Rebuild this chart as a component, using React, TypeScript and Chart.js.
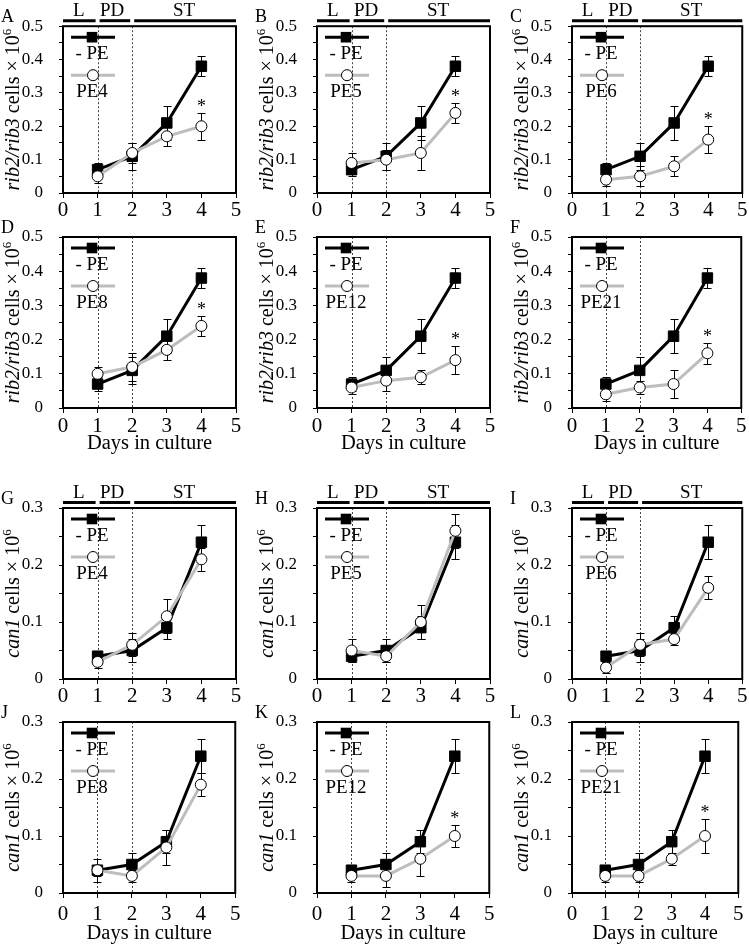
import React, { useEffect, useRef } from 'react';
import { Chart, registerables } from 'chart.js';
Chart.register(...registerables);

const SERIF = "'Liberation Serif', 'Times New Roman', serif";
const GRAY = '#bdbdbd';

const days = [1, 2, 3, 4];
const phaseNames = ['L', 'PD', 'ST'];
const panelLetters = ['A', 'B', 'C', 'D', 'E', 'F', 'G', 'H', 'I', 'J', 'K', 'L'];
const peNames = ['PE4', 'PE5', 'PE6', 'PE8', 'PE12', 'PE21'];
const controlName = '- PE';
const xTitle = 'Days in culture';

// control (-PE)
const ribControl = [0.07, 0.11, 0.21, 0.38];
const ribControlErr = [0.02, 0.04, 0.05, 0.03];
const canControl = [0.04, 0.05, 0.09, 0.24];
const canControlErr = [0.01, 0.02, 0.02, 0.03];

// rib2/rib3 with PE
const ribPE4 = [0.05, 0.12, 0.17, 0.2];
const ribPE4Err = [0.02, 0.03, 0.03, 0.04];
const ribPE5 = [0.09, 0.1, 0.12, 0.24];
const ribPE5Err = [0.03, 0.03, 0.05, 0.03];
const ribPE6 = [0.04, 0.05, 0.08, 0.16];
const ribPE6Err = [0.02, 0.03, 0.03, 0.04];
const ribPE8 = [0.1, 0.12, 0.17, 0.24];
const ribPE8Err = [0.02, 0.04, 0.03, 0.03];
const ribPE12 = [0.06, 0.08, 0.09, 0.14];
const ribPE12Err = [0.02, 0.03, 0.02, 0.04];
const ribPE21 = [0.04, 0.06, 0.07, 0.16];
const ribPE21Err = [0.02, 0.02, 0.04, 0.03];

// can1 with PE
const canPE4 = [0.03, 0.06, 0.11, 0.21];
const canPE4Err = [0.01, 0.02, 0.03, 0.02];
const canPE5 = [0.05, 0.04, 0.1, 0.26];
const canPE5Err = [0.02, 0.01, 0.03, 0.03];
const canPE6 = [0.02, 0.06, 0.07, 0.16];
const canPE6Err = [0.01, 0.02, 0.01, 0.02];
const canPE8 = [0.04, 0.03, 0.08, 0.19];
const canPE8Err = [0.02, 0.01, 0.03, 0.02];
const canPE12 = [0.03, 0.03, 0.06, 0.1];
const canPE12Err = [0.01, 0.02, 0.03, 0.02];
const canPE21 = [0.03, 0.03, 0.06, 0.1];
const canPE21Err = [0.01, 0.01, 0.01, 0.03];

const ribSeries = [ribPE4, ribPE5, ribPE6, ribPE8, ribPE12, ribPE21];
const ribErrs = [ribPE4Err, ribPE5Err, ribPE6Err, ribPE8Err, ribPE12Err, ribPE21Err];
const canSeries = [canPE4, canPE5, canPE6, canPE8, canPE12, canPE21];
const canErrs = [canPE4Err, canPE5Err, canPE6Err, canPE8Err, canPE12Err, canPE21Err];
const ribStar = [true, true, true, true, true, true];
const canStar = [false, false, false, false, true, true];

const ribMax = 0.5;
const canMax = 0.3;

// layout
const plotLefts = [63, 317, 572];
const plotTops = [23, 237, 508, 722];
const plotW = 173;
const plotHs = [170, 171, 171, 171];
const xTickCenter = [17, 18, 17, 21];
const xTitleOffset = [0, 36, 0, 41];

type PanelCfg = {
  row: number;
  col: number;
  letter: string;
  name: string;
  gene: 'rib' | 'can';
  ctrl: number[];
  ctrlErr: number[];
  pe: number[];
  peErr: number[];
  star: boolean;
};

const panels: PanelCfg[] = [];
for (let r = 0; r < 4; r++) {
  for (let c = 0; c < 3; c++) {
    const k = (r % 2) * 3 + c;
    const gene = r < 2 ? 'rib' : 'can';
    panels.push({
      row: r,
      col: c,
      letter: panelLetters[r * 3 + c],
      name: peNames[k],
      gene,
      ctrl: gene === 'rib' ? ribControl : canControl,
      ctrlErr: gene === 'rib' ? ribControlErr : canControlErr,
      pe: gene === 'rib' ? ribSeries[k] : canSeries[k],
      peErr: gene === 'rib' ? ribErrs[k] : canErrs[k],
      star: gene === 'rib' ? ribStar[k] : canStar[k],
    });
  }
}

function Panel({ cfg }: { cfg: PanelCfg }) {
  const ref = useRef<HTMLCanvasElement>(null);
  const { row, col } = cfg;
  const topPad = row === 0 ? 23 : 40;
  const rightPad = col === 2 ? 4 : 10;
  const bottomPad = row % 2 === 1 ? 52 : 32;
  const plotH = plotHs[row];
  const W = 63 + plotW + rightPad;
  const H = topPad + plotH + bottomPad;
  const left = plotLefts[col] - 63;
  const top = plotTops[row] - topPad;
  const showPhases = row % 2 === 0;
  const showXTitle = row % 2 === 1;
  const ymax = cfg.gene === 'rib' ? ribMax : canMax;

  useEffect(() => {
    const canvas = ref.current!;
    const deco = {
      id: 'deco',
      beforeDatasetsDraw(chart: any) {
        const ctx = chart.ctx;
        const a = chart.chartArea;
        const xs = chart.scales.x;
        const ys = chart.scales.y;
        ctx.save();
        ctx.strokeStyle = '#444';
        ctx.lineWidth = 1;
        ctx.setLineDash([2, 2]);
        [1, 2].forEach((d) => {
          const px = Math.round(xs.getPixelForValue(d)) + 0.5;
          ctx.beginPath();
          ctx.moveTo(px, a.top);
          ctx.lineTo(px, a.bottom);
          ctx.stroke();
        });
        ctx.setLineDash([]);
        ctx.strokeStyle = '#000';
        ctx.lineWidth = 1;
        const sets = [
          [cfg.ctrl, cfg.ctrlErr],
          [cfg.pe, cfg.peErr],
        ];
        sets.forEach(([vals, errs]) => {
          vals.forEach((v, i) => {
            const x = Math.round(xs.getPixelForValue(days[i])) + 0.5;
            const yt = Math.round(ys.getPixelForValue(v + errs[i])) + 0.5;
            const yb = Math.round(ys.getPixelForValue(Math.max(0, v - errs[i]))) + 0.5;
            ctx.beginPath();
            ctx.moveTo(x, yt);
            ctx.lineTo(x, yb);
            ctx.moveTo(x - 4, yt);
            ctx.lineTo(x + 4, yt);
            ctx.moveTo(x - 4, yb);
            ctx.lineTo(x + 4, yb);
            ctx.stroke();
          });
        });
        ctx.restore();
      },
      afterDatasetsDraw(chart: any) {
        const ctx = chart.ctx;
        const a = chart.chartArea;
        const xs = chart.scales.x;
        const ys = chart.scales.y;
        ctx.save();
        ctx.lineWidth = 3;
        ctx.strokeStyle = '#000';
        ctx.beginPath();
        ctx.moveTo(a.left + 8, a.top + 11);
        ctx.lineTo(a.left + 52, a.top + 11);
        ctx.stroke();
        ctx.fillStyle = '#000';
        ctx.fillRect(a.left + 29 - 5.3, a.top + 11 - 5.3, 10.6, 10.6);
        ctx.strokeStyle = GRAY;
        ctx.beginPath();
        ctx.moveTo(a.left + 8, a.top + 49);
        ctx.lineTo(a.left + 52, a.top + 49);
        ctx.stroke();
        ctx.beginPath();
        ctx.arc(a.left + 30, a.top + 49, 5.5, 0, Math.PI * 2);
        ctx.fillStyle = '#fff';
        ctx.fill();
        ctx.lineWidth = 1;
        ctx.strokeStyle = '#000';
        ctx.stroke();
        ctx.fillStyle = '#000';
        ctx.font = `19px ${SERIF}`;
        ctx.textAlign = 'center';
        ctx.textBaseline = 'middle';
        ctx.fillText(controlName, a.left + 29, a.top + 28);
        ctx.fillText(cfg.name, a.left + 29, a.top + 66);
        if (cfg.star) {
          const i = 3;
          const x = xs.getPixelForValue(days[i]);
          const y = ys.getPixelForValue(cfg.pe[i] + cfg.peErr[i]);
          ctx.font = `18px ${SERIF}`;
          ctx.textBaseline = 'alphabetic';
          ctx.fillText('*', x, y - 1);
        }
        ctx.restore();
      },
      afterDraw(chart: any) {
        const ctx = chart.ctx;
        const a = chart.chartArea;
        const xs = chart.scales.x;
        ctx.save();
        ctx.strokeStyle = '#000';
        ctx.lineWidth = 2;
        ctx.strokeRect(a.left, a.top, a.right - a.left, a.bottom - a.top);
        ctx.fillStyle = '#000';
        ctx.font = `18px ${SERIF}`;
        ctx.textAlign = 'left';
        ctx.textBaseline = 'middle';
        ctx.fillText(cfg.letter, a.left - 62, a.top - 9);
        if (showPhases) {
          const y = a.top - 5.5;
          ctx.lineWidth = 3;
          const p = (v: number) => xs.getPixelForValue(v);
          const segs = [
            [p(0), p(1) - 2],
            [p(1) + 2, p(2) - 2],
            [p(2) + 2, p(5)],
          ];
          segs.forEach(([s, e]) => {
            ctx.beginPath();
            ctx.moveTo(s, y);
            ctx.lineTo(e, y);
            ctx.stroke();
          });
          ctx.font = `19px ${SERIF}`;
          ctx.textAlign = 'center';
          const centers = [0.46, 1.42, 3.5];
          phaseNames.forEach((n, i) => ctx.fillText(n, p(centers[i]), a.top - 15));
        }
        if (showXTitle) {
          ctx.font = `20.5px ${SERIF}`;
          ctx.textAlign = 'center';
          ctx.textBaseline = 'middle';
          ctx.fillText(xTitle, (a.left + a.right) / 2, a.bottom + xTitleOffset[row]);
        }
        const it = cfg.gene === 'rib' ? 'rib2/rib3' : 'can1';
        const rest = ' cells \u00d7 10';
        const sup = '6';
        ctx.translate(a.left - 44, (a.top + a.bottom) / 2);
        ctx.rotate(-Math.PI / 2);
        ctx.textAlign = 'left';
        ctx.textBaseline = 'alphabetic';
        const fIt = `italic 20px ${SERIF}`;
        const fN = `20px ${SERIF}`;
        const fS = `13px ${SERIF}`;
        ctx.font = fIt;
        const w1 = ctx.measureText(it).width;
        ctx.font = fN;
        const w2 = ctx.measureText(rest).width;
        ctx.font = fS;
        const w3 = ctx.measureText(sup).width;
        let x0 = -(w1 + w2 + w3) / 2;
        ctx.font = fIt;
        ctx.fillText(it, x0, 0);
        x0 += w1;
        ctx.font = fN;
        ctx.fillText(rest, x0, 0);
        x0 += w2;
        ctx.font = fS;
        ctx.fillText(sup, x0, -8);
        ctx.restore();
      },
    };

    const chart = new Chart(canvas, {
      type: 'line',
      data: {
        datasets: [
          {
            label: controlName,
            data: days.map((d, i) => ({ x: d, y: cfg.ctrl[i] })),
            borderColor: '#000',
            backgroundColor: '#000',
            borderWidth: 3,
            pointStyle: 'rect',
            pointRadius: 7.4,
            pointBackgroundColor: '#000',
            pointBorderColor: '#000',
            pointBorderWidth: 1,
            tension: 0,
            order: 2,
          },
          {
            label: cfg.name,
            data: days.map((d, i) => ({ x: d, y: cfg.pe[i] })),
            borderColor: GRAY,
            backgroundColor: '#fff',
            borderWidth: 3,
            pointStyle: 'circle',
            pointRadius: 5.5,
            pointBackgroundColor: '#fff',
            pointBorderColor: '#000',
            pointBorderWidth: 1,
            tension: 0,
            order: 1,
          },
        ],
      } as any,
      options: {
        responsive: false,
        animation: false,
        devicePixelRatio: 1,
        events: [],
        layout: { autoPadding: false, padding: { left: 0, top: topPad, right: rightPad, bottom: 0 } },
        plugins: { legend: { display: false }, tooltip: { enabled: false } },
        scales: {
          x: {
            type: 'linear',
            min: 0,
            max: 5,
            ticks: {
              stepSize: 1,
              autoSkip: false,
              maxRotation: 0,
              color: '#000',
              padding: xTickCenter[row] - 15.5,
              font: { family: SERIF, size: 21, lineHeight: 1 },
            },
            grid: { drawOnChartArea: false, drawTicks: true, tickLength: 5, color: '#000', lineWidth: 1 },
            border: { display: false },
            afterFit: (s: any) => {
              s.height = bottomPad;
            },
          },
          y: {
            type: 'linear',
            min: 0,
            max: ymax,
            ticks: {
              stepSize: 0.05,
              autoSkip: false,
              color: '#000',
              padding: 16,
              font: { family: SERIF, size: 17 },
              callback: (v: any) => {
                const k = Math.round(Number(v) * 100);
                if (k % 10 !== 0) return '';
                return k === 0 ? '0' : (k / 100).toFixed(1);
              },
            },
            grid: { drawOnChartArea: false, drawTicks: true, tickLength: 4, color: '#000', lineWidth: 1 },
            border: { display: false },
            afterFit: (s: any) => {
              s.width = 63;
            },
          },
        },
      } as any,
      plugins: [deco as any],
    });
    return () => chart.destroy();
  }, []);

  return (
    <canvas
      ref={ref}
      width={W}
      height={H}
      style={{ position: 'absolute', left, top, width: W, height: H }}
    />
  );
}

export default function App() {
  return (
    <div
      style={{
        position: 'absolute',
        left: 0,
        top: 0,
        width: 749,
        height: 945,
        overflow: 'hidden',
        background: '#fff',
      }}
    >
      {panels.map((p) => (
        <Panel key={p.letter} cfg={p} />
      ))}
    </div>
  );
}
